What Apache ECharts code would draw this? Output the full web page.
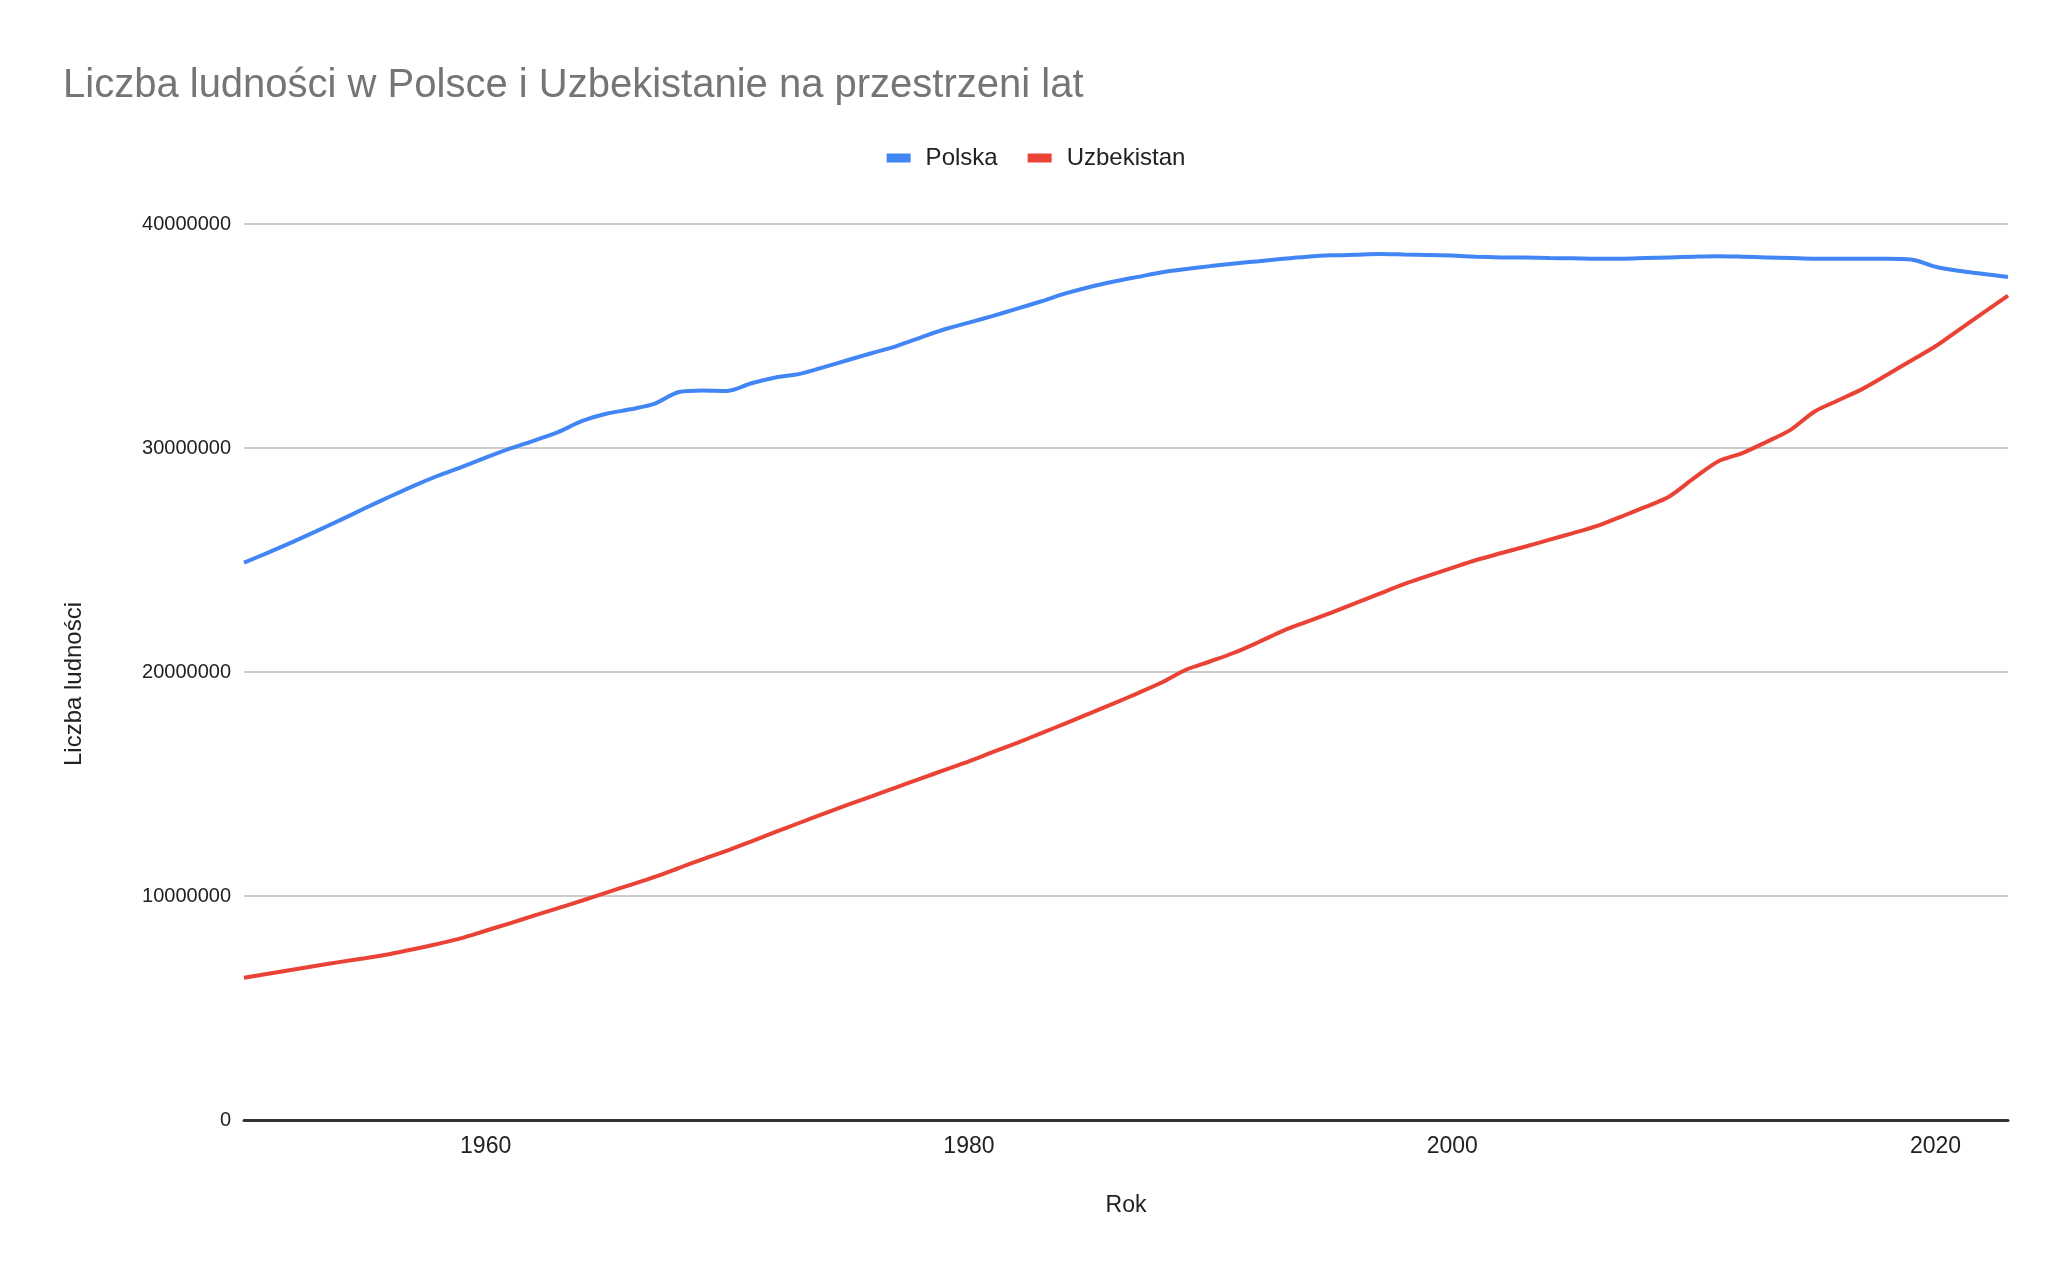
<!DOCTYPE html>
<html>
<head>
<meta charset="utf-8">
<script src="https://cdn.jsdelivr.net/npm/echarts@6/dist/echarts.min.js"></script>
<style>
html,body{margin:0;padding:0;background:#fff;}
#chart{width:2072px;height:1280px;}
</style>
</head>
<body>
<div id="chart"></div>
<script>
const years = [1950,1951,1952,1953,1954,1955,1956,1957,1958,1959,1960,1961,1962,1963,1964,1965,1966,1967,1968,1969,1970,1971,1972,1973,1974,1975,1976,1977,1978,1979,1980,1981,1982,1983,1984,1985,1986,1987,1988,1989,1990,1991,1992,1993,1994,1995,1996,1997,1998,1999,2000,2001,2002,2003,2004,2005,2006,2007,2008,2009,2010,2011,2012,2013,2014,2015,2016,2017,2018,2019,2020,2021,2022,2023];

const polska = [24880000,25330000,25800000,26290000,26790000,27310000,27810000,28300000,28750000,29150000,29570000,29970000,30330000,30710000,31210000,31530000,31730000,31980000,32500000,32570000,32550000,32890000,33150000,33310000,33610000,33930000,34240000,34550000,34930000,35300000,35600000,35900000,36220000,36550000,36900000,37190000,37430000,37640000,37850000,37990000,38120000,38240000,38340000,38450000,38540000,38600000,38630000,38660000,38640000,38620000,38590000,38540000,38510000,38500000,38480000,38470000,38450000,38450000,38480000,38510000,38540000,38560000,38540000,38510000,38480000,38450000,38450000,38450000,38450000,38420000,38090000,37900000,37770000,37630000];

const uzbekistan = [6350000,6530000,6710000,6890000,7060000,7220000,7400000,7620000,7860000,8120000,8450000,8780000,9120000,9460000,9800000,10150000,10500000,10850000,11250000,11650000,12030000,12440000,12860000,13270000,13680000,14080000,14460000,14850000,15240000,15630000,16010000,16430000,16840000,17270000,17710000,18150000,18600000,19060000,19540000,20110000,20480000,20870000,21340000,21840000,22250000,22650000,23070000,23500000,23920000,24290000,24650000,25000000,25300000,25590000,25900000,26200000,26520000,26940000,27370000,27850000,28650000,29400000,29770000,30270000,30810000,31630000,32140000,32650000,33270000,33910000,34540000,35300000,36050000,36800000];

const seriesNames = ['Polska','Uzbekistan'];
const xTickLabels = [1960,1980,2000,2020];
const yTickLabels = [0,10000000,20000000,30000000,40000000];
const titleText = 'Liczba ludności w Polsce i Uzbekistanie na przestrzeni lat';
const xName = 'Rok';
const yName = 'Liczba ludności';

const font = '"Liberation Sans", Arial, sans-serif';
const chart = echarts.init(document.getElementById('chart'), null, {renderer:'canvas'});

function pairs(vals){ return years.map((y,i)=>[y, vals[i]]); }

chart.setOption({
  animation:false,
  backgroundColor:'#ffffff',
  textStyle:{fontFamily:font},
  title:{
    text:titleText,
    left:58, top:61,
    textStyle:{fontFamily:font,fontSize:40,fontWeight:'normal',color:'#757575'}
  },
  legend:{
    data:seriesNames,
    top:141, left:'center',
    icon:'rect', itemWidth:24, itemHeight:9, itemGap:30,
    textStyle:{fontFamily:font,fontSize:24,color:'#222222',padding:[0,0,0,10]}
  },
  grid:{left:244,right:64,top:224,bottom:160,containLabel:false},
  xAxis:{
    type:'value', min:1950, max:2023, interval:10,
    name:xName, nameLocation:'middle', nameGap:74,
    nameTextStyle:{fontFamily:font,fontSize:23,color:'#222222'},
    axisLine:{show:true,onZero:false,lineStyle:{color:'#333333',width:3}},
    axisTick:{show:false},
    splitLine:{show:false},
    axisLabel:{
      fontFamily:font,fontSize:23,color:'#222222',margin:15,
      showMinLabel:false, showMaxLabel:false,
      formatter:function(v){ return xTickLabels.indexOf(v)>=0 ? String(v) : ''; }
    }
  },
  yAxis:{
    type:'value', min:0, max:40000000, interval:10000000,
    name:yName, nameLocation:'middle', nameGap:158, nameRotate:90,
    nameTextStyle:{fontFamily:font,fontSize:24,color:'#222222',padding:[0,24,0,0]},
    axisLine:{show:false}, axisTick:{show:false},
    splitLine:{show:true,lineStyle:{color:'#cccccc',width:2}},
    axisLabel:{
      fontFamily:font,fontSize:20,color:'#222222',margin:13,
      formatter:function(v){ return yTickLabels.indexOf(v)>=0 ? String(v) : ''; }
    }
  },
  series:[
    {name:seriesNames[0],type:'line',data:pairs(polska),showSymbol:false,smooth:0.3,
     lineStyle:{color:'#4285F4',width:4},itemStyle:{color:'#4285F4'}},
    {name:seriesNames[1],type:'line',data:pairs(uzbekistan),showSymbol:false,smooth:0.3,
     lineStyle:{color:'#EA4335',width:4},itemStyle:{color:'#EA4335'}}
  ]
});
</script>
</body>
</html>
